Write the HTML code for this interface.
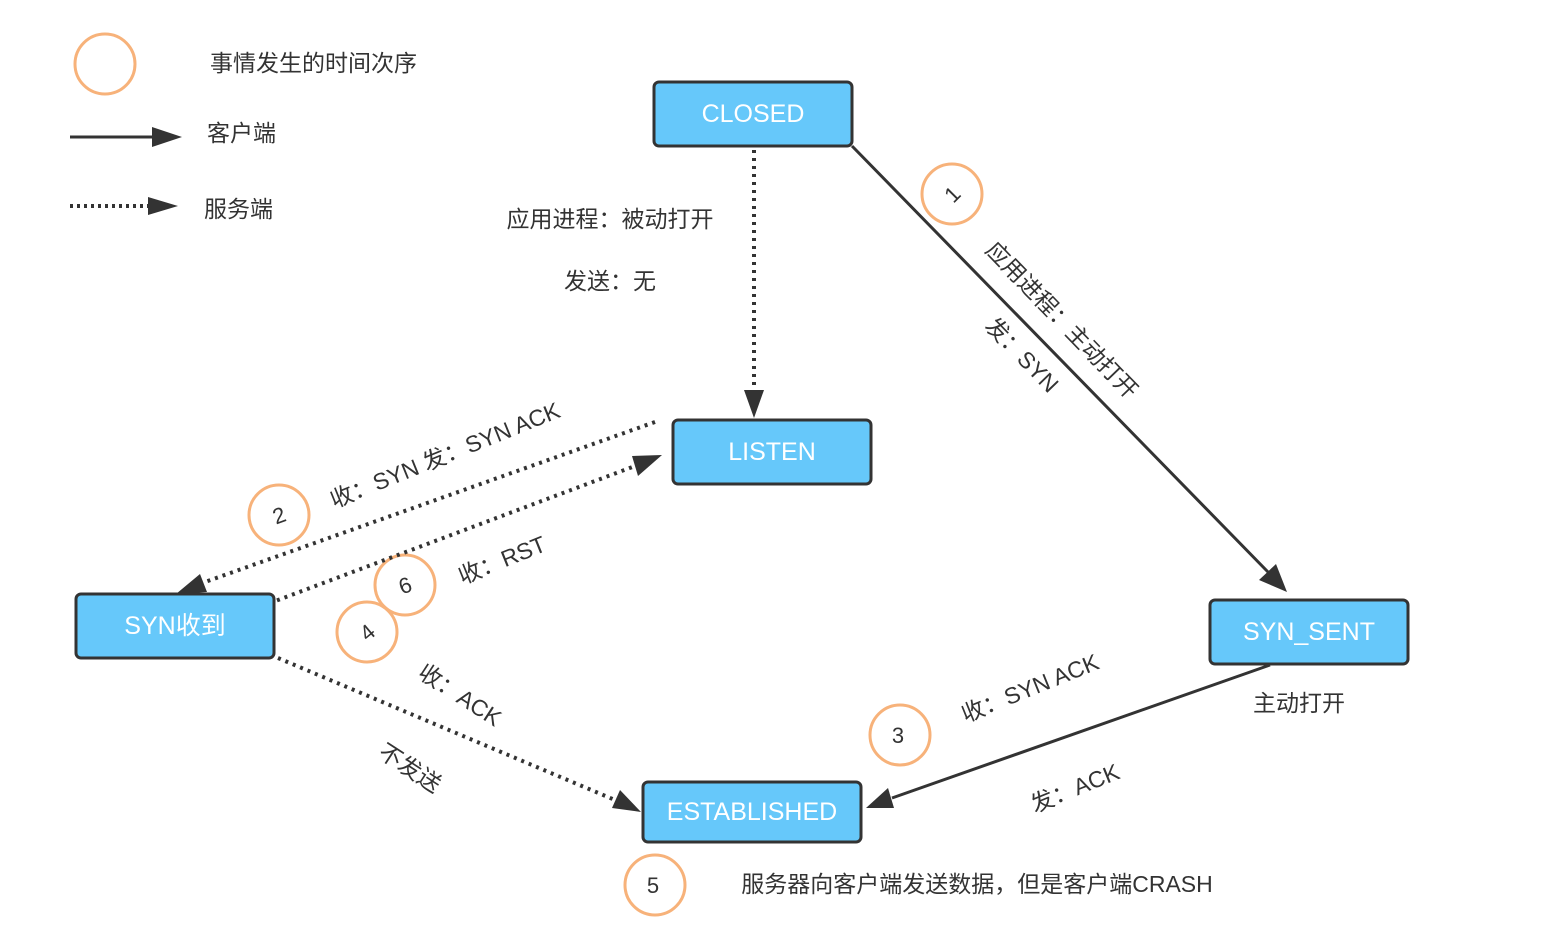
<!DOCTYPE html>
<html><head><meta charset="utf-8"><style>
html,body{margin:0;padding:0;background:#fff;width:1556px;height:940px;overflow:hidden}
svg text{font-family:"Liberation Sans","Noto Sans CJK SC",sans-serif;fill:#333}
</style></head><body>
<svg width="1556" height="940" viewBox="0 0 1556 940" xmlns="http://www.w3.org/2000/svg">
<defs>
<marker id="ar" markerWidth="10" markerHeight="8" refX="9" refY="4" orient="auto" markerUnits="userSpaceOnUse" viewBox="0 0 10 8">
</marker>
</defs>
<g fill="none" stroke="#f7b27a" stroke-width="3">
<circle cx="105" cy="64" r="30"/>
<circle cx="952" cy="194" r="30"/>
<circle cx="279" cy="515" r="30"/>
<circle cx="405" cy="585" r="30"/>
<circle cx="367" cy="632" r="30"/>
<circle cx="900" cy="735" r="30"/>
<circle cx="655" cy="885" r="30"/>
</g>
<g font-size="22" text-anchor="middle">
<text x="952" y="202" transform="rotate(-45 952 194)">1</text>
<text x="279" y="523" transform="rotate(-20 279 515)">2</text>
<text x="405" y="593" transform="rotate(-20 405 585)">6</text>
<text x="367" y="640" transform="rotate(-40 367 632)">4</text>
<text x="898" y="743">3</text>
<text x="653" y="893">5</text>
</g>
<!-- legend -->
<line x1="70" y1="137" x2="155" y2="137" stroke="#333" stroke-width="3"/>
<polygon points="152,127 182,137 152,147" fill="#333"/>
<line x1="70" y1="206" x2="150" y2="206" stroke="#333" stroke-width="4" stroke-dasharray="3 4"/>
<polygon points="148,197 178,206 148,215" fill="#333"/>
<g font-size="23">
<text x="210" y="71">事情发生的时间次序</text>
<text x="207" y="141">客户端</text>
<text x="204" y="217">服务端</text>
</g>
<!-- connectors -->
<g stroke="#333" stroke-width="4" fill="none">
<line x1="754" y1="150" x2="754" y2="392" stroke-dasharray="3 5"/>
<line x1="852" y1="146" x2="1268" y2="572" stroke-width="3"/>
<line x1="655" y1="422" x2="205" y2="582" stroke-dasharray="3 5"/>
<line x1="262" y1="606" x2="635" y2="466" stroke-dasharray="3 5"/>
<line x1="278" y1="658" x2="615" y2="800" stroke-dasharray="3 5"/>
<line x1="1270" y1="665" x2="892" y2="798" stroke-width="3"/>
</g>
<g fill="#333">
<polygon points="744,390 764,390 754,418"/>
<polygon points="1259,580 1276,564 1287,592"/>
<polygon points="200,574 207,592 176,594"/>
<polygon points="632,456 638,476 662,455"/>
<polygon points="620,790 612,808 641,812"/>
<polygon points="888,788 894,808 866,808"/>
</g>
<!-- boxes -->
<g fill="#66c8fa" stroke="#333" stroke-width="3">
<rect x="654" y="82" width="198" height="64" rx="5"/>
<rect x="673" y="420" width="198" height="64" rx="5"/>
<rect x="76" y="594" width="198" height="64" rx="5"/>
<rect x="1210" y="600" width="198" height="64" rx="5"/>
<rect x="643" y="782" width="218" height="60" rx="5"/>
</g>
<g font-size="25" text-anchor="middle" style="fill:#fff">
<text x="753" y="122" style="fill:#fff">CLOSED</text>
<text x="772" y="460" style="fill:#fff">LISTEN</text>
<text x="175" y="634" style="fill:#fff">SYN收到</text>
<text x="1309" y="640" style="fill:#fff">SYN_SENT</text>
<text x="752" y="820" style="fill:#fff">ESTABLISHED</text>
</g>
<g font-size="23" text-anchor="middle">
<text x="610" y="227">应用进程：被动打开</text>
<text x="610" y="289">发送：无</text>
<text x="1062" y="328" transform="rotate(46 1062 320)">应用进程：主动打开</text>
<text x="1022" y="363" transform="rotate(46 1022 355)">发：SYN</text>
<text x="445" y="463" transform="rotate(-22 445 455)">收：SYN 发：SYN ACK</text>
<text x="502" y="568" transform="rotate(-22 502 560)">收：RST</text>
<text x="460" y="703" transform="rotate(33 460 695)">收：ACK</text>
<text x="410" y="776" transform="rotate(33 410 768)">不发送</text>
<text x="1030" y="696" transform="rotate(-22 1030 688)">收：SYN ACK</text>
<text x="1075" y="796" transform="rotate(-22 1075 788)">发：ACK</text>
<text x="1299" y="711">主动打开</text>
<text x="977" y="892">服务器向客户端发送数据，但是客户端CRASH</text>
</g>
</svg>
</body></html>
